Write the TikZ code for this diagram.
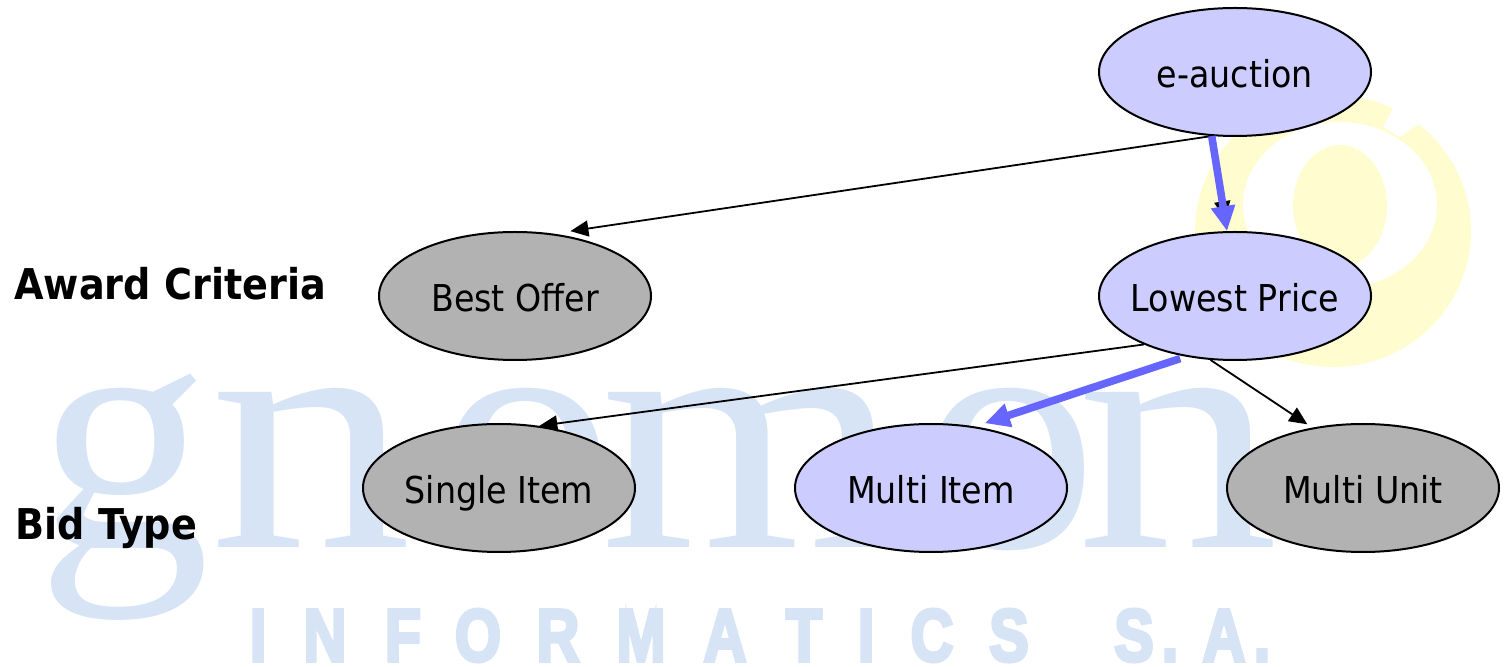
\documentclass[tikz,border=0pt]{standalone}
\usepackage{fontspec}
\setmainfont{DejaVu Sans Condensed}
\newfontfamily\markfont{Liberation Serif}
\newfontfamily\capsfont[BoldFeatures={FakeBold=5}]{Liberation Sans}
\usetikzlibrary{positioning,arrows.meta,shapes.geometric}
\definecolor{w_lilac}{HTML}{CCCCFF}
\definecolor{w_grey}{HTML}{B2B2B2}
\definecolor{w_blue}{HTML}{6666FF}
\definecolor{w_mark}{HTML}{D7E4F6}
\definecolor{w_yellow}{HTML}{FFFDCF}
\tikzset{
  crit/.style={ellipse,draw=black,line width=1pt,minimum width=136pt,minimum height=64pt,inner sep=-20pt,text height=15.5pt,text depth=0pt,font=\fontsize{18.5}{22}\selectfont},
  chosen/.style={crit,fill=w_lilac},
  other/.style={crit,fill=w_grey},
  thinarrow/.style={draw=black,line width=0.9pt,-{Triangle[length=9pt,width=8pt]}},
  thickarrow/.style={draw=w_blue,line width=3.8pt,-{Triangle[length=12.5pt,width=11.5pt]}},
  rowlabel/.style={anchor=base west,inner sep=0pt,font=\fontsize{21.2}{24}\selectfont\bfseries},
  capsletter/.style={anchor=base,inner sep=0pt,text=w_mark,font=\fontsize{37}{39}\capsfont\bfseries},
  markletter/.style={anchor=base west,inner sep=0pt,text=w_mark,font=\fontsize{169}{169}\markfont}
}
\begin{document}
\begin{tikzpicture}[x=0.5pt,y=-0.5pt]
\path[use as bounding box] (0,0) rectangle (1504,667);
\fill[w_yellow,even odd rule] (1333,231) ellipse [x radius=138,y radius=136] (1340,205) ellipse [x radius=97,y radius=83];
\fill[w_yellow] (1340,206) ellipse [x radius=47,y radius=61];
\fill[white] (1383,127) -- (1401,94) -- (1436,112) -- (1400,137) -- cycle;
\foreach \ch/\xx/\sx in {g/36/1.03,n/209/1.2,o/437/1.05,m/600/1.15,o/920/1.05,n/1076/1.2}
  \node[markletter] (mark\xx) at (\xx,548) {\scalebox{\sx}[1]{\ch}};
\foreach \ch/\xx in {I/258,N/325,F/403,O/478,R/558,M/641,A/725,T/804,I/866,C/932,S/1009,S/1134,./1170,A/1224,./1262}
  \node[capsletter] (caps\xx) at (\xx,661) {\scalebox{0.8}[1]{\ch}};
\node[chosen] (auction) at (1235,72) {e-auction};
\node[other] (offer) at (515,296) {Best Offer};
\node[chosen] (price) at (1235,296) {Lowest Price};
\node[other] (single) at (499,488) {Single Item};
\node[chosen] (multi) at (931,488) {Multi Item};
\node[other] (unit) at (1363,488) {Multi Unit};
\node[rowlabel] (award) at (14,300) {Award Criteria};
\node[rowlabel] (bid) at (15,540) {Bid Type};
\draw[thinarrow] (auction.250) -- ([yshift=2.7pt]offer.47);
\draw[thinarrow,shorten >=6pt] (auction.250) -- (price.97);
\draw[thickarrow] (auction.250) -- (price.97);
\draw[thinarrow] (price.208) -- (single.57);
\draw[thinarrow,shorten >=3pt] (price.249) -- (unit.130);
\draw[thickarrow,shorten <=3pt] (price.231) -- ([yshift=2.5pt]multi.48);
\end{tikzpicture}
\end{document}
